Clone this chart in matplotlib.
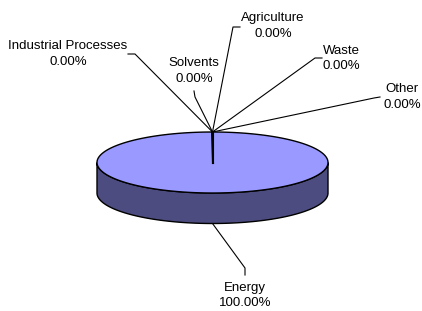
import numpy as np
import matplotlib
matplotlib.use("Agg")
import matplotlib.pyplot as plt
from matplotlib.patches import Polygon

categories = ["Energy", "Industrial Processes", "Solvents", "Agriculture", "Waste", "Other"]
values = [100.0, 0.0, 0.0, 0.0, 0.0, 0.0]

W, H = 422, 311
fig = plt.figure(figsize=(W / 100, H / 100), dpi=100)
ax = fig.add_axes([0, 0, 1, 1])
ax.set_xlim(0, W)
ax.set_ylim(H, 0)
ax.axis("off")

plt.rcParams['font.family'] = ['Liberation Sans', 'DejaVu Sans']

# pie geometry (layout)
cx, cy, a, b, depth = 212.5, 162.5, 115.5, 30.5, 30.5
top_col = "#9999FF"
side_col = "#4C4C80"

total = sum(values)
fracs = [v / total for v in values]
starts, ends = [], []
ang = 90.0
for f in fracs:
    starts.append(ang)
    ang -= f * 360.0
    ends.append(ang)

def pt(theta, dz=0.0):
    t = np.deg2rad(theta)
    return cx + a * np.cos(t), cy - b * np.sin(t) + dz

# side faces (front half only)
for s, e, f in zip(starts, ends, fracs):
    if f <= 0:
        continue
    th = np.linspace(e, s, 400)
    th = th[np.sin(np.deg2rad(th)) <= 0]
    if len(th) < 2:
        continue
    top = [pt(t) for t in th]
    bot = [pt(t, depth) for t in th[::-1]]
    ax.add_patch(Polygon(top + bot, closed=True, facecolor=side_col,
                         edgecolor="black", linewidth=1.0, zorder=1))

# top faces
for s, e, f in zip(starts, ends, fracs):
    if f <= 0:
        continue
    th = np.linspace(s, e, 400)
    pts = [pt(t) for t in th]
    if f < 1:
        pts = [(cx, cy)] + pts
    ax.add_patch(Polygon(pts, closed=True, facecolor=top_col,
                         edgecolor="black", linewidth=1.0, zorder=2))

# slice boundary lines
for s in set(starts):
    x0, y0 = pt(s)
    ax.plot([cx, x0], [cy, y0], color="black", lw=1.5, zorder=3)

# labels with leader lines: (elbow point, end point, text center)
label_layout = {
    "Energy": ((245, 268), (245, 275), (245, 295.5)),
    "Industrial Processes": ((135, 54), (128, 54), (68, 54)),
    "Solvents": ((195, 97), (194, 91), (194, 71)),
    "Agriculture": ((233, 27), (240, 27), (273, 26)),
    "Waste": ((315, 58), (322, 58), (341, 58.5)),
    "Other": ((374, 98), (380, 97), (402, 97)),
}

for cat, s, e, f in zip(categories, starts, ends, fracs):
    mid = (s + e) / 2.0
    sx, sy = pt(mid, depth if np.sin(np.deg2rad(mid)) < 0 else 0.0)
    (ex, ey), (fx, fy), (tx, ty) = label_layout[cat]
    ax.plot([sx, ex, fx], [sy, ey, fy], color="black", lw=0.8, zorder=4)
    ax.text(tx, ty, f"{cat}\n{f * 100:.2f}%", ha="center", va="center",
            fontsize=9.5, linespacing=1.4, color="black", zorder=5)

fig.savefig("out.png", dpi=100)
